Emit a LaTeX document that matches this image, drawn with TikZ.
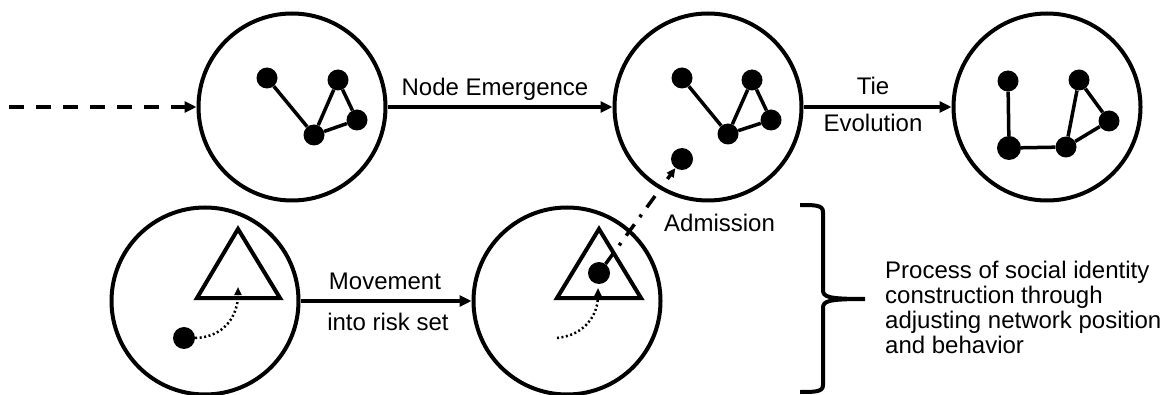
\documentclass[tikz,border=0pt]{standalone}
\usepackage{fontspec}
\setmainfont{Liberation Sans}
\usetikzlibrary{arrows.meta}
\tikzstyle{stage} = [circle, draw, line width=4pt, minimum size=187pt, inner sep=0pt]
\tikzstyle{actor} = [circle, fill, inner sep=0pt, minimum size=21pt]
\tikzstyle{tie} = [line width=3.5pt]
\tikzstyle{flow} = [line width=4pt, -{Triangle[length=12pt,width=11pt]}]
\tikzstyle{drift} = [line width=2.5pt, dash pattern=on 2pt off 2.5pt, -{Triangle[length=8pt,width=7pt]}]
\tikzstyle{admit} = [line width=3.5pt, dash pattern=on 14pt off 9pt on 3pt off 9pt, -{Triangle[length=9pt,width=8pt]}]
\tikzstyle{lbl} = [font=\fontsize{24}{25}\selectfont, inner sep=0pt]

\begin{document}
\begin{tikzpicture}[x=1pt, y=-1pt]
		\useasboundingbox (0,0) rectangle (1164,395);
		% the five stages
		\node[stage] (s1) at (292,107) {};
		\node[stage] (s2) at (708,107) {};
		\node[stage] (s3) at (1047,107) {};
		\node[stage] (s4) at (205,301) {};
		\node[stage] (s5) at (567,301) {};

		% network before a node joins
		\node[actor] (a1) at (267,78) {};
		\node[actor] (b1) at (338,80) {};
		\node[actor] (c1) at (357,120) {};
		\node[actor] (d1) at (314,135) {};
		\draw[tie] (a1) -- (d1) -- (b1) -- (c1) -- (d1);

		% network with the new node
		\node[actor] (a2) at (682,78) {};
		\node[actor] (b2) at (752,80) {};
		\node[actor] (c2) at (771,120) {};
		\node[actor] (d2) at (728,134) {};
		\node[actor, minimum size=22pt] (e2) at (682,159) {};
		\draw[tie] (a2) -- (d2) -- (b2) -- (c2) -- (d2);

		% network after the ties change
		\node[actor] (a3) at (1008,81) {};
		\node[actor] (b3) at (1079,80) {};
		\node[actor] (c3) at (1109,121) {};
		\node[actor, minimum size=24pt] (d3) at (1009,148) {};
		\node[actor] (e3) at (1066,147) {};
		\draw[tie] (a3) -- (d3) -- (e3) -- (b3) -- (c3) -- (e3);

		% risk sets
		\draw[line width=4pt] (238,229) -- (197,298) -- (280,298) -- cycle;
		\draw[line width=4pt] (599,229) -- (557,298) -- (641,298) -- cycle;
		\node[actor, minimum size=22pt] (p4) at (184,338) {};
		\node[actor, minimum size=22pt] (p5) at (599,273) {};
		\coordinate (t4) at (238,287);
		\coordinate (o5) at (557,338);
		\coordinate (t5) at (598,288);
		\draw[drift] (p4.east) .. controls (225,337) and (238,315) .. (t4);
		\draw[drift] (o5) .. controls (585,335) and (598,315) .. (t5);
		\draw[admit] (p5) -- (e2);

		% transitions
		\coordinate (src) at (9,107);
		\draw[flow, dash pattern=on 15pt off 12pt] (src) -- (s1);
		\draw[flow] (s1) -- (s2);
		\draw[flow] (s2) -- (s3);
		\draw[flow] (s4) -- (s5);
		\node[lbl, anchor=base] (emerge) at (495,96) {Node Emergence};
		\node[lbl, anchor=base] (tie) at (873,95) {Tie};
		\node[lbl, anchor=base] (evol) at (873,132) {Evolution};
		\node[lbl, anchor=base] (move) at (385,289) {Movement};
		\node[lbl, anchor=base] (risk) at (388,330) {into risk set};
		\node[lbl, anchor=base west] (admission) at (664,232) {Admission};

		% brace and note
		\draw[line width=4pt] (800,205) .. controls (815,205) and (823,205) .. (823,212) -- (823,290)
			.. controls (823,297) and (828,299) .. (865,299)
			.. controls (828,299) and (823,301) .. (823,308) -- (823,385)
			.. controls (823,392) and (815,392) .. (800,392);
		\node[lbl, anchor=base west, align=left] (process) at (885,353)
			{Process of social identity\\construction through\\adjusting network position\\and behavior};
\end{tikzpicture}
\end{document}
